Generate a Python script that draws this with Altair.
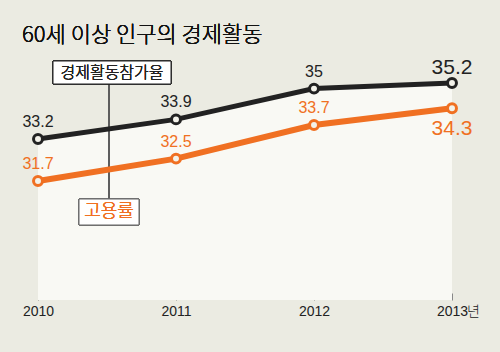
import altair as alt
import pandas as pd

years = [2010, 2011, 2012, 2013]
participation = [33.2, 33.9, 35.0, 35.2]   # 경제활동참가율
employment = [31.7, 32.5, 33.7, 34.3]       # 고용률

df = pd.DataFrame({"year": years, "part": participation, "emp": employment})

BLACK = "#222222"
ORANGE = "#f07022"
BG = "#ebebe2"
AREA = "#f9f9f4"
NUM_FONT = "Liberation Sans"
KR_FONT = "Noto Sans CJK KR"
KR_W = 300

xs = alt.Scale(domain=[2010, 2013])
ys = alt.Scale(domain=[27.45, 35.95])

base = alt.Chart(df)
X = alt.X("year:Q", scale=xs, axis=alt.Axis(
    values=years, format="d", title=None, domain=False, grid=False,
    offset=-7, tickSize=7, tickColor="#888", tickWidth=1,
    labelFont=NUM_FONT, labelFontSize=14, labelFontWeight="normal", labelColor=BLACK,
    labelPadding=4, labelFlush=False, labelOverlap=False))

area = base.mark_area(color=AREA, opacity=1).encode(
    x=X, y=alt.Y("part:Q", scale=ys, axis=None), y2=alt.datum(27.45))

nyear = base.transform_filter(alt.datum.year == 2013).mark_text(
    text="년", font=KR_FONT, fontSize=14, fontWeight=KR_W, color=BLACK,
    align="left", baseline="alphabetic", dx=15
).encode(x=alt.X("year:Q", scale=xs), y=alt.value(254))

connector = base.mark_rule(color="#555", strokeWidth=1).encode(
    x=alt.value(71), y=alt.value(22), y2=alt.value(137))

box1 = base.mark_rect(fill="white", stroke=BLACK, strokeWidth=1).encode(
    x=alt.value(15), x2=alt.value(133), y=alt.value(-1), y2=alt.value(22))
box1t = base.mark_text(text="경제활동참가율", font=KR_FONT, fontSize=16, fontWeight=KR_W,
                       color=BLACK, align="center", baseline="middle").encode(x=alt.value(74), y=alt.value(11))
box2 = base.mark_rect(fill="white", stroke="#666", strokeWidth=1).encode(
    x=alt.value(41), x2=alt.value(101), y=alt.value(137), y2=alt.value(163))
box2t = base.mark_text(text="고용률", font=KR_FONT, fontSize=18, fontWeight=KR_W,
                       color=ORANGE, align="center", baseline="middle").encode(x=alt.value(71), y=alt.value(150))

line_p = base.mark_line(color=BLACK, strokeWidth=5).encode(x=alt.X("year:Q", scale=xs), y=alt.Y("part:Q", scale=ys))
line_e = base.mark_line(color=ORANGE, strokeWidth=6).encode(x=alt.X("year:Q", scale=xs), y=alt.Y("emp:Q", scale=ys))
pt_p = base.mark_point(shape="circle", filled=False, fill="#f3f2ea", fillOpacity=1, stroke=BLACK,
                       strokeWidth=3, size=80, opacity=1).encode(x=alt.X("year:Q", scale=xs), y=alt.Y("part:Q", scale=ys))
pt_e = base.mark_point(shape="circle", filled=False, fill="#f3f2ea", fillOpacity=1, stroke=ORANGE,
                       strokeWidth=3, size=80, opacity=1).encode(x=alt.X("year:Q", scale=xs), y=alt.Y("emp:Q", scale=ys))

lab_p = base.transform_filter(alt.datum.year < 2013).mark_text(
    font=NUM_FONT, fontSize=16, color=BLACK, baseline="alphabetic", dy=-12
).encode(x=alt.X("year:Q", scale=xs), y=alt.Y("part:Q", scale=ys), text=alt.Text("part:Q", format=".3~g"))
lab_p2 = base.transform_filter(alt.datum.year == 2013).mark_text(
    font=NUM_FONT, fontSize=21, color=BLACK, baseline="alphabetic", dy=-9
).encode(x=alt.X("year:Q", scale=xs), y=alt.Y("part:Q", scale=ys), text=alt.Text("part:Q", format=".3~g"))
lab_e = base.transform_filter(alt.datum.year < 2013).mark_text(
    font=NUM_FONT, fontSize=16, color=ORANGE, baseline="alphabetic", dy=-12
).encode(x=alt.X("year:Q", scale=xs), y=alt.Y("emp:Q", scale=ys), text=alt.Text("emp:Q", format=".3~g"))
lab_e2 = base.transform_filter(alt.datum.year == 2013).mark_text(
    font=NUM_FONT, fontSize=21, color=ORANGE, baseline="alphabetic", dy=27
).encode(x=alt.X("year:Q", scale=xs), y=alt.Y("emp:Q", scale=ys), text=alt.Text("emp:Q", format=".3~g"))

title = base.mark_text(text="60세 이상 인구의 경제활동", font=KR_FONT, fontSize=22, fontWeight=KR_W,
                       color="#111111", align="left", baseline="alphabetic").encode(
    x=alt.value(-16), y=alt.value(-20))

chart = alt.layer(
    area, connector, line_p, line_e, pt_p, pt_e, box1, box1t, box2, box2t,
    lab_p, lab_p2, lab_e, lab_e2, nyear, title
).properties(
    width=414, height=238,
    autosize=alt.AutoSizeParams(type="none"),
    padding={"left": 38, "top": 62, "right": 48, "bottom": 52},
    background=BG,
).configure_view(stroke=None)

chart.save("out.html", embed_options={"renderer": "svg", "actions": False})
